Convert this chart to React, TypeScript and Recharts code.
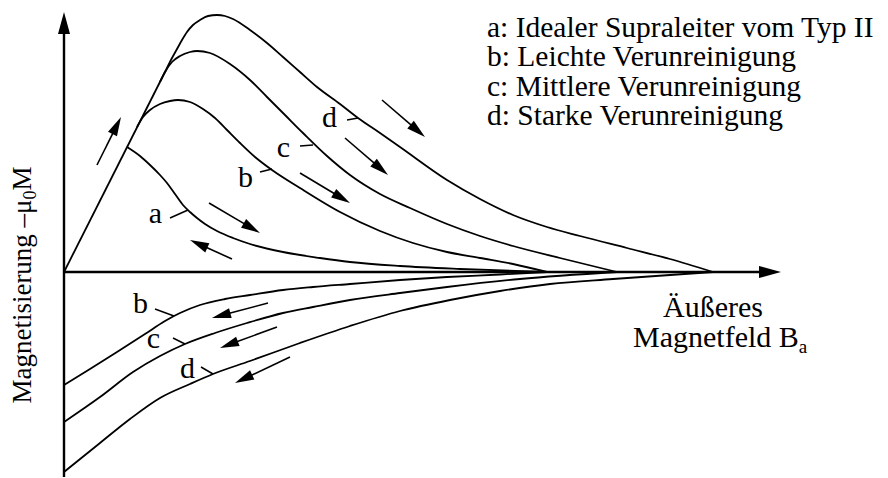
import { LineChart, Line, XAxis, YAxis, ReferenceLine, ReferenceDot } from "recharts";

type Punkt = { x: number; y: number };

const SCHRIFT = '"Liberation Serif", "Times New Roman", serif';

// Achsenbereich (willkürliche Einheiten)
const xBereich: [number, number] = [0, 7.17];
const yBereich: [number, number] = [-2.05, 2.6];

// Meißner-Gerade vom Ursprung bis zum Abzweig von Kurve d
const meissner: Punkt[] = [
  { x: 0, y: 0 },
  { x: 1.02, y: 2.02 },
];

// a: idealer Typ-II-Supraleiter (reversibel)
const kurveA: Punkt[] = [
  { x: 0.63, y: 1.25 }, { x: 0.76, y: 1.16 }, { x: 0.86, y: 1.07 }, { x: 0.96, y: 0.97 },
  { x: 1.03, y: 0.89 }, { x: 1.11, y: 0.78 }, { x: 1.19, y: 0.67 }, { x: 1.26, y: 0.6 },
  { x: 1.33, y: 0.54 }, { x: 1.41, y: 0.48 }, { x: 1.53, y: 0.41 }, { x: 1.69, y: 0.34 },
  { x: 1.86, y: 0.28 }, { x: 2.19, y: 0.2 }, { x: 2.56, y: 0.14 }, { x: 2.86, y: 0.1 },
  { x: 3.36, y: 0.06 }, { x: 3.96, y: 0.03 }, { x: 4.83, y: 0 },
];

// b/c/d: Aufmagnetisierung mit zunehmender Verunreinigung
const kurveB: Punkt[] = [
  { x: 0.73, y: 1.45 }, { x: 0.79, y: 1.55 }, { x: 0.86, y: 1.62 }, { x: 0.96, y: 1.68 },
  { x: 1.06, y: 1.71 }, { x: 1.14, y: 1.72 }, { x: 1.26, y: 1.7 }, { x: 1.39, y: 1.63 },
  { x: 1.51, y: 1.54 }, { x: 1.63, y: 1.42 }, { x: 1.76, y: 1.29 }, { x: 1.91, y: 1.15 },
  { x: 2.08, y: 1.02 }, { x: 2.36, y: 0.84 }, { x: 2.76, y: 0.6 }, { x: 3.16, y: 0.41 },
  { x: 3.49, y: 0.29 }, { x: 3.83, y: 0.2 }, { x: 4.16, y: 0.14 }, { x: 4.49, y: 0.08 },
  { x: 4.83, y: 0 },
];

const kurveC: Punkt[] = [
  { x: 0.96, y: 1.9 }, { x: 1.01, y: 2.0 }, { x: 1.08, y: 2.1 }, { x: 1.16, y: 2.16 },
  { x: 1.26, y: 2.2 }, { x: 1.33, y: 2.21 }, { x: 1.46, y: 2.19 }, { x: 1.66, y: 2.08 },
  { x: 1.86, y: 1.92 }, { x: 2.03, y: 1.75 }, { x: 2.21, y: 1.57 }, { x: 2.39, y: 1.39 },
  { x: 2.63, y: 1.16 }, { x: 2.86, y: 0.97 }, { x: 3.16, y: 0.78 }, { x: 3.46, y: 0.64 },
  { x: 3.83, y: 0.48 }, { x: 4.16, y: 0.36 }, { x: 4.49, y: 0.26 }, { x: 4.96, y: 0.14 },
  { x: 5.53, y: 0 },
];

const kurveD: Punkt[] = [
  { x: 1.02, y: 2.02 }, { x: 1.08, y: 2.14 }, { x: 1.13, y: 2.23 }, { x: 1.18, y: 2.32 },
  { x: 1.23, y: 2.4 }, { x: 1.29, y: 2.47 }, { x: 1.36, y: 2.52 }, { x: 1.44, y: 2.56 },
  { x: 1.53, y: 2.57 }, { x: 1.61, y: 2.56 }, { x: 1.69, y: 2.53 }, { x: 1.86, y: 2.42 },
  { x: 2.03, y: 2.29 }, { x: 2.19, y: 2.15 }, { x: 2.36, y: 2.0 }, { x: 2.53, y: 1.85 },
  { x: 2.76, y: 1.68 }, { x: 2.94, y: 1.54 }, { x: 3.16, y: 1.39 }, { x: 3.36, y: 1.25 },
  { x: 3.83, y: 0.92 }, { x: 4.16, y: 0.73 }, { x: 4.49, y: 0.57 }, { x: 4.83, y: 0.45 },
  { x: 5.16, y: 0.36 }, { x: 5.63, y: 0.24 }, { x: 6.06, y: 0.13 }, { x: 6.49, y: 0 },
];

// Rückwege beim Abschalten des Feldes (eingefrorener Fluss)
const rueckB: Punkt[] = [
  { x: 0, y: -1.13 }, { x: 0.26, y: -0.97 }, { x: 0.53, y: -0.8 }, { x: 0.81, y: -0.62 },
  { x: 1.01, y: -0.49 }, { x: 1.16, y: -0.41 }, { x: 1.36, y: -0.33 }, { x: 1.61, y: -0.27 },
  { x: 1.86, y: -0.23 }, { x: 2.19, y: -0.18 }, { x: 2.49, y: -0.15 }, { x: 2.86, y: -0.12 },
  { x: 3.36, y: -0.08 }, { x: 3.83, y: -0.05 }, { x: 4.36, y: -0.025 }, { x: 4.83, y: 0 },
];

const rueckC: Punkt[] = [
  { x: 0, y: -1.5 }, { x: 0.36, y: -1.25 }, { x: 0.69, y: -1.0 }, { x: 0.96, y: -0.84 },
  { x: 1.21, y: -0.72 }, { x: 1.51, y: -0.61 }, { x: 1.83, y: -0.51 }, { x: 2.19, y: -0.41 },
  { x: 2.49, y: -0.35 }, { x: 2.86, y: -0.28 }, { x: 3.36, y: -0.21 }, { x: 3.83, y: -0.15 },
  { x: 4.56, y: -0.07 }, { x: 5.53, y: 0 },
];

const rueckD: Punkt[] = [
  { x: 0, y: -2.0 }, { x: 0.36, y: -1.71 }, { x: 0.66, y: -1.47 }, { x: 0.96, y: -1.26 },
  { x: 1.26, y: -1.12 }, { x: 1.49, y: -1.02 }, { x: 1.86, y: -0.89 }, { x: 2.36, y: -0.71 },
  { x: 2.86, y: -0.54 }, { x: 3.36, y: -0.39 }, { x: 3.86, y: -0.28 }, { x: 4.36, y: -0.19 },
  { x: 4.86, y: -0.12 }, { x: 5.49, y: -0.07 }, { x: 6.49, y: 0 },
];

// Richtungspfeile entlang der Kurven
const pfeile: { von: Punkt; nach: Punkt }[] = [
  { von: { x: 0.33, y: 1.07 }, nach: { x: 0.57, y: 1.55 } },
  { von: { x: 1.45, y: 0.69 }, nach: { x: 1.96, y: 0.39 } },
  { von: { x: 1.68, y: 0.13 }, nach: { x: 1.26, y: 0.32 } },
  { von: { x: 2.36, y: 0.99 }, nach: { x: 2.86, y: 0.69 } },
  { von: { x: 2.81, y: 1.34 }, nach: { x: 3.24, y: 0.97 } },
  { von: { x: 3.18, y: 1.72 }, nach: { x: 3.61, y: 1.35 } },
  { von: { x: 2.04, y: -0.31 }, nach: { x: 1.48, y: -0.46 } },
  { von: { x: 2.13, y: -0.55 }, nach: { x: 1.56, y: -0.76 } },
  { von: { x: 2.26, y: -0.85 }, nach: { x: 1.71, y: -1.11 } },
];

// Kurvenbuchstaben mit kurzem Hinweisstrich
const kurvenMarken = [
  { text: "a", tx: 0.98, ty: 0.49, von: { x: 1.06, y: 0.54 }, bis: { x: 1.24, y: 0.62 } },
  { text: "b", tx: 1.89, ty: 0.85, von: { x: 1.96, y: 1.0 }, bis: { x: 2.08, y: 1.03 } },
  { text: "c", tx: 2.26, ty: 1.15, von: { x: 2.36, y: 1.26 }, bis: { x: 2.49, y: 1.27 } },
  { text: "d", tx: 2.73, ty: 1.45, von: { x: 2.83, y: 1.52 }, bis: { x: 2.94, y: 1.54 } },
  { text: "b", tx: 0.84, ty: -0.41, von: { x: 0.91, y: -0.37 }, bis: { x: 1.1, y: -0.44 } },
  { text: "c", tx: 0.96, ty: -0.76, von: { x: 1.09, y: -0.66 }, bis: { x: 1.21, y: -0.72 } },
  { text: "d", tx: 1.31, ty: -1.06, von: { x: 1.37, y: -0.95 }, bis: { x: 1.49, y: -1.02 } },
];

const legende = [
  "a: Idealer Supraleiter vom Typ II",
  "b: Leichte Verunreinigung",
  "c: Mittlere Verunreinigung",
  "d: Starke Verunreinigung",
];

const kurven = [meissner, kurveA, kurveB, kurveC, kurveD, rueckB, rueckC, rueckD];

// Linie mit gefüllter Pfeilspitze am Endpunkt
const pfeilForm = (kopf: number, halb: number, strich: number) => (props: any) => {
  const { x1, y1, x2, y2 } = props;
  const dx = x2 - x1;
  const dy = y2 - y1;
  const len = Math.hypot(dx, dy) || 1;
  const ux = dx / len;
  const uy = dy / len;
  const bx = x2 - ux * kopf;
  const by = y2 - uy * kopf;
  const spitze = `${x2},${y2} ${bx - uy * halb},${by + ux * halb} ${bx + uy * halb},${by - ux * halb}`;
  return (
    <g>
      <line x1={x1} y1={y1} x2={bx + ux * 2} y2={by + uy * 2} stroke="#000" strokeWidth={strich} />
      <polygon points={spitze} fill="#000" />
    </g>
  );
};

const achsPfeil = pfeilForm(22, 6, 2.4);
const kurvenPfeil = pfeilForm(19, 5, 1.6);

const YTitel = () => (
  <text
    x={31}
    y={285}
    transform="rotate(-90, 31, 285)"
    textAnchor="middle"
    fontFamily={SCHRIFT}
    fontSize={27}
    fill="#000"
  >
    <tspan>Magnetisierung –μ</tspan>
    <tspan fontSize={18} dy={5}>0</tspan>
    <tspan dy={-5}>M</tspan>
  </text>
);

const XTitel = () => (
  <g fontFamily={SCHRIFT} fontSize={30} fill="#000">
    <text x={663} y={317}>Äußeres</text>
    <text x={633} y={347}>
      <tspan>Magnetfeld B</tspan>
      <tspan fontSize={19} dy={6}>a</tspan>
    </text>
  </g>
);

export default function App() {
  return (
    <div style={{ position: "absolute", left: 0, top: 0, width: 888, height: 478, background: "#fff" }}>
      <LineChart width={888} height={478} margin={{ top: 12, right: 107, bottom: 0, left: 4 }}>
        <XAxis
          type="number"
          dataKey="x"
          domain={xBereich}
          allowDataOverflow
          height={1}
          tick={false}
          tickLine={false}
          axisLine={false}
          label={{ content: () => <XTitel /> }}
        />
        <YAxis
          type="number"
          dataKey="y"
          domain={yBereich}
          allowDataOverflow
          width={60}
          tick={false}
          tickLine={false}
          axisLine={false}
          label={{ content: () => <YTitel /> }}
        />

        <ReferenceLine
          segment={[{ x: 0, y: 0 }, { x: xBereich[1], y: 0 }]}
          ifOverflow="visible"
          shape={achsPfeil}
        />
        <ReferenceLine
          segment={[{ x: 0, y: yBereich[0] }, { x: 0, y: yBereich[1] }]}
          ifOverflow="visible"
          shape={achsPfeil}
        />

        {kurven.map((daten, i) => (
          <Line
            key={i}
            data={daten}
            dataKey="y"
            type={i === 0 ? "linear" : "monotone"}
            stroke="#000"
            strokeWidth={1.8}
            dot={false}
            activeDot={false}
            isAnimationActive={false}
          />
        ))}

        {pfeile.map((p, i) => (
          <ReferenceLine key={`p${i}`} segment={[p.von, p.nach]} ifOverflow="visible" shape={kurvenPfeil} />
        ))}

        {kurvenMarken.map((m, i) => (
          <ReferenceLine
            key={`s${i}`}
            segment={[m.von, m.bis]}
            ifOverflow="visible"
            stroke="#000"
            strokeWidth={1.5}
          />
        ))}
        {kurvenMarken.map((m, i) => (
          <ReferenceDot
            key={`m${i}`}
            x={m.tx}
            y={m.ty}
            r={1}
            ifOverflow="visible"
            shape={(p: any) => (
              <text x={p.cx} y={p.cy} textAnchor="end" fontFamily={SCHRIFT} fontSize={30} fill="#000">
                {m.text}
              </text>
            )}
          />
        ))}
      </LineChart>

      <div
        style={{
          position: "absolute",
          left: 487,
          top: 13,
          fontFamily: SCHRIFT,
          fontSize: 29.5,
          lineHeight: "29.3px",
          color: "#000",
          whiteSpace: "nowrap",
        }}
      >
        {legende.map((z) => (
          <div key={z}>{z}</div>
        ))}
      </div>
    </div>
  );
}
